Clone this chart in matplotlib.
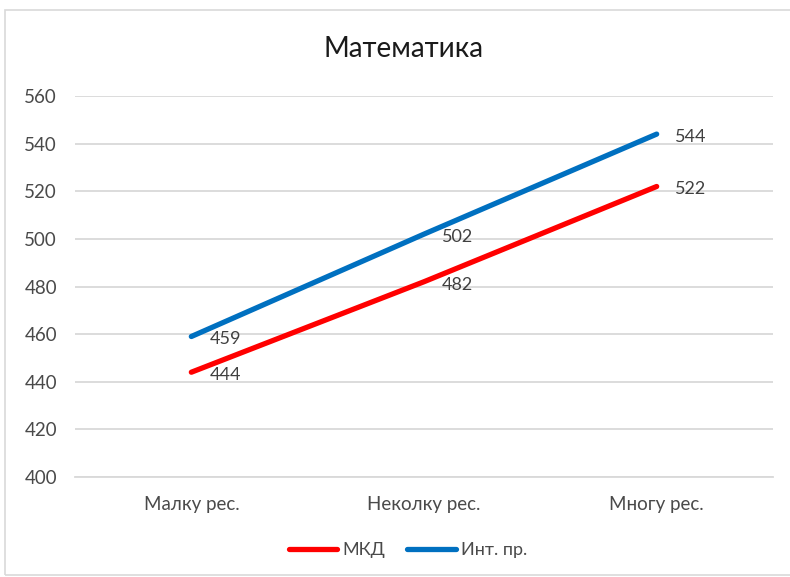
import matplotlib.pyplot as plt
from matplotlib.patches import Rectangle

# podatoci
kategorii = ['Малку рес.', 'Неколку рес.', 'Многу рес.']
mkd = [444, 482, 522]
int_pr = [459, 502, 544]
serii = ['МКД', 'Инт. пр.']
boi = ['#ff0000', '#0070c0']
y_ticks = [400, 420, 440, 460, 480, 500, 520, 540, 560]

plt.rcParams['font.family'] = ['Lato', 'DejaVu Sans']

W, H = 790, 577
fig = plt.figure(figsize=(W / 100, H / 100), dpi=100)
fig.patches.append(Rectangle((5 / W, 2 / H), 800 / W, (H - 12) / H, transform=fig.transFigure,
                             fill=False, edgecolor='#d9d9d9', linewidth=1.2))

ax = fig.add_axes([75 / W, (H - 477) / H, (773 - 75) / W, (477 - 96) / H])
x = list(range(len(kategorii)))

for vals, ime, boja in zip([mkd, int_pr], serii, boi):
    ax.plot(x, vals, color=boja, linewidth=3.8, solid_capstyle='round', label=ime, zorder=3)
    for xi, v in zip(x, vals):
        ax.annotate(str(v), (xi, v), xytext=(13, -2), textcoords='offset points',
                    ha='left', va='center', fontsize=13, color='#404040', zorder=4)

ax.set_xlim(-0.5, 2.5)
ax.set_ylim(400, 560)
ax.set_yticks(y_ticks)
ax.set_xticks(x)
ax.set_xticklabels(kategorii)
ax.grid(axis='y', color='#d9d9d9', linewidth=1.3)
ax.set_axisbelow(True)
for s in ['top', 'right', 'left']:
    ax.spines[s].set_visible(False)
ax.spines['bottom'].set_color('#d9d9d9')
ax.spines['bottom'].set_linewidth(1.3)
ax.tick_params(axis='both', length=0, labelsize=13.5, colors='#4a4a4a')
ax.tick_params(axis='y', pad=13)
ax.tick_params(axis='x', pad=14)

fig.text(404 / W, 1 - 49 / H, 'Математика', ha='center', va='center', fontsize=20, color='#1a1a1a')

fig.legend(loc='center', bbox_to_anchor=(408 / W, 1 - 550 / H), ncol=2, frameon=False,
           fontsize=13, handlelength=2.7, handletextpad=0.3, columnspacing=1.2,
           labelcolor='#4a4a4a')

fig.savefig('out.png', dpi=100)
